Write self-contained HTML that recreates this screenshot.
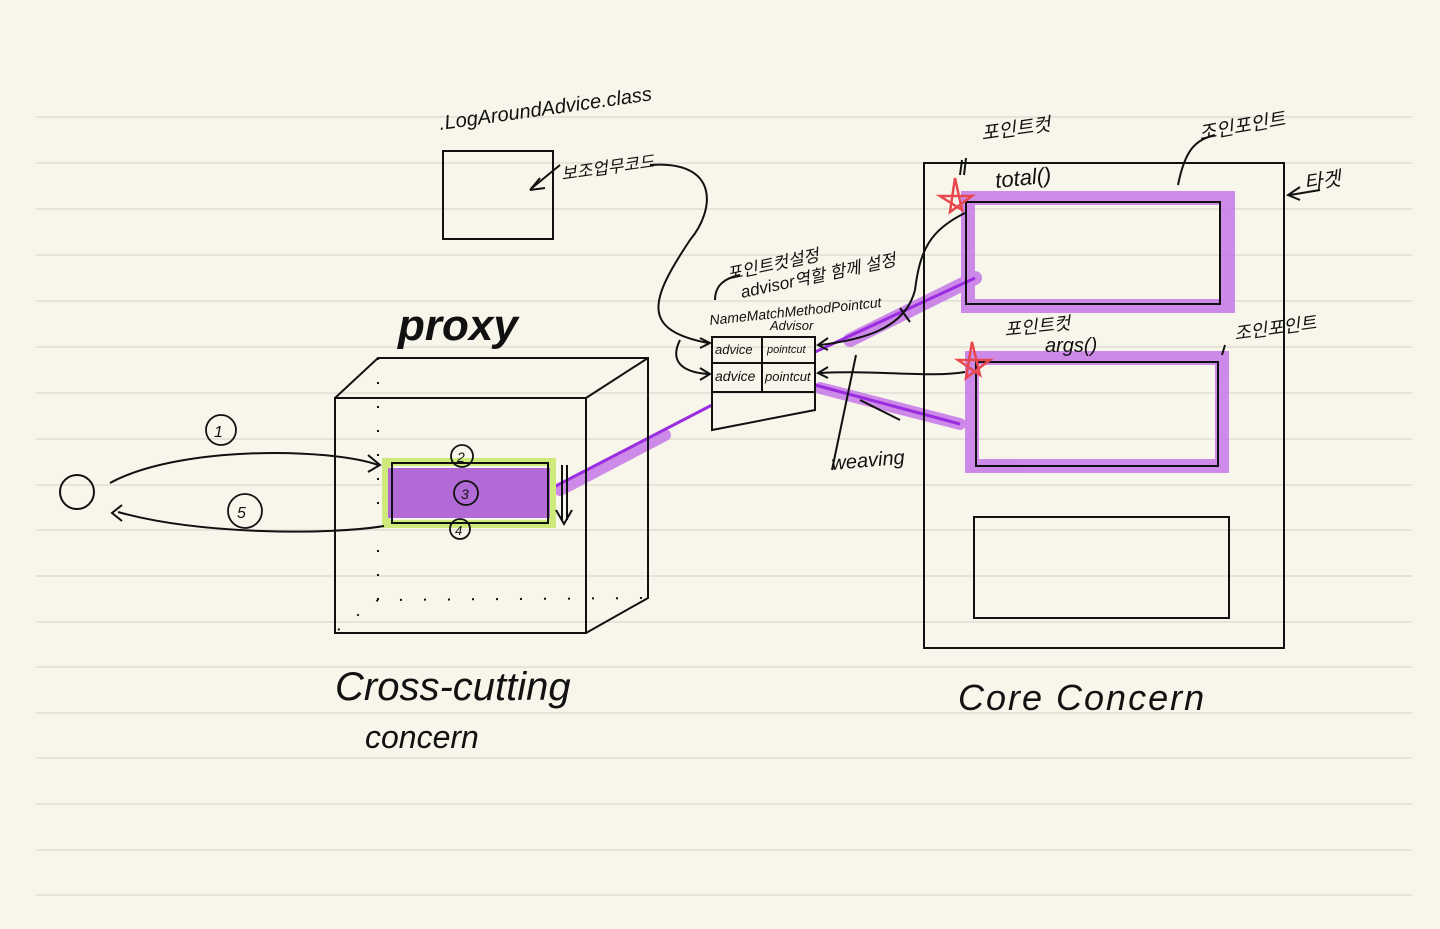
<!DOCTYPE html>
<html><head><meta charset="utf-8"><style>
html,body{margin:0;padding:0;background:#f8f6ea;}
svg{display:block}
text{font-family:"Liberation Sans","Noto Sans CJK KR",sans-serif;fill:#111;font-style:italic}
</style></head><body>
<svg width="1440" height="929" viewBox="0 0 1440 929" xmlns="http://www.w3.org/2000/svg">
<rect width="1440" height="929" fill="#f8f6ea"/>
<g stroke="#dcdad0" stroke-width="1.3">
<line x1="36" y1="117" x2="1412" y2="117"/><line x1="36" y1="163" x2="1412" y2="163"/>
<line x1="36" y1="209" x2="1412" y2="209"/><line x1="36" y1="255" x2="1412" y2="255"/>
<line x1="36" y1="301" x2="1412" y2="301"/><line x1="36" y1="347" x2="1412" y2="347"/>
<line x1="36" y1="393" x2="1412" y2="393"/><line x1="36" y1="439" x2="1412" y2="439"/>
<line x1="36" y1="485" x2="1412" y2="485"/><line x1="36" y1="530" x2="1412" y2="530"/>
<line x1="36" y1="576" x2="1412" y2="576"/><line x1="36" y1="622" x2="1412" y2="622"/>
<line x1="36" y1="667" x2="1412" y2="667"/><line x1="36" y1="713" x2="1412" y2="713"/>
<line x1="36" y1="758" x2="1412" y2="758"/><line x1="36" y1="804" x2="1412" y2="804"/>
<line x1="36" y1="850" x2="1412" y2="850"/><line x1="36" y1="895" x2="1412" y2="895"/>
</g>
<!-- purple highlights -->
<g stroke="#c87ee8" fill="none" stroke-linecap="round" opacity="0.9">
<rect x="968" y="198" width="260" height="108" stroke-width="14"/>
<rect x="972" y="358" width="250" height="108" stroke-width="14"/>
<line x1="850" y1="340" x2="975" y2="278" stroke-width="14"/>
<line x1="820" y1="388" x2="960" y2="424" stroke-width="12"/>
<line x1="560" y1="490" x2="665" y2="435" stroke-width="12"/>
</g>
<g stroke="#9b2de0" fill="none" stroke-width="3">
<line x1="548" y1="490" x2="712" y2="405"/>
<line x1="815" y1="352" x2="975" y2="278"/>
<line x1="815" y1="385" x2="960" y2="424"/>
</g>
<rect x="386" y="462" width="166" height="62" fill="none" stroke="#cdea7a" stroke-width="8"/>
<rect x="388" y="468" width="162" height="50" fill="#b26ad6"/>
<g stroke="#111" fill="none" stroke-width="2">
<rect x="443" y="151" width="110" height="88"/>
<!-- cube -->
<rect x="335" y="398" width="251" height="235"/>
<path d="M335 398 L378 358 L648 358 L648 598 L586 633 M586 398 L648 358"/>
<path d="M378 358 L378 600 L648 598 M378 600 L338 630" stroke-dasharray="2 22"/>
<rect x="392" y="463" width="156" height="60"/>
<circle cx="77" cy="492" r="17"/>
<path d="M110 483 C180 445 330 448 378 465 M368 455 L380 465 L368 472"/>
<path d="M118 512 C200 535 330 535 384 526 M122 505 L112 513 L122 521"/>
<path d="M562 465 L562 520 M567 465 L567 520 M556 510 L564 524 L572 510"/>
<!-- advisor -->
<path d="M712 337 L815 337 L815 410 L712 430 Z"/>
<path d="M712 363 L815 363 M712 392 L815 392 M762 337 L762 392"/>
<path d="M650 165 C720 160 715 210 690 240 C650 300 640 330 708 343 M700 338 L710 343 L700 348"/>
<path d="M680 340 C670 360 680 372 708 374 M700 368 L710 374 L700 380"/>
<path d="M965 213 C930 230 920 250 915 290 C905 330 860 340 820 345 M828 338 L818 345 L828 350"/>
<path d="M965 372 C930 378 880 370 820 373 M828 367 L818 373 L828 378"/>
<path d="M530 190 L540 178 M530 190 L545 188 M532 188 L560 165"/>
<!-- target -->
<rect x="924" y="163" width="360" height="485"/>
<rect x="966" y="202" width="254" height="102"/>
<rect x="976" y="362" width="242" height="104"/>
<rect x="974" y="517" width="255" height="101"/>
<path d="M856 355 L832 470 M860 400 L900 420 M910 322 L900 308"/>
<path d="M1178 185 C1185 150 1195 140 1215 135 M1222 355 L1225 345"/>
<path d="M1300 187 L1288 195 L1300 200 M1290 195 L1320 190"/>
<path d="M962 160 L960 175 M966 158 L964 175"/>
<path d="M715 300 C715 285 725 278 740 275"/>
</g>
<g stroke="#e8474d" fill="none" stroke-width="2.5">
<path d="M955 178 L962 210 L940 196 L972 196 L950 212 Z"/>
<path d="M972 342 L980 375 L958 360 L990 360 L966 378 Z"/>
</g>
<g fill="none" stroke="#111" stroke-width="1.8">
<circle cx="221" cy="430" r="15"/><circle cx="245" cy="511" r="17"/>
<circle cx="462" cy="456" r="11"/><circle cx="466" cy="493" r="12"/><circle cx="460" cy="529" r="10"/>
</g>
<text x="214" y="437" font-size="16">1</text>
<text x="237" y="518" font-size="16">5</text>
<text x="457" y="462" font-size="14">2</text>
<text x="461" y="499" font-size="14">3</text>
<text x="455" y="535" font-size="13">4</text>
<text x="440" y="130" font-size="20" transform="rotate(-8 440 130)">.LogAroundAdvice.class</text>
<text x="562" y="180" font-size="17" transform="rotate(-8 562 180)">보조업무코드</text>
<text x="398" y="340" font-size="44" font-weight="bold" font-style="normal">proxy</text>
<text x="335" y="700" font-size="40" font-style="normal">Cross-cutting</text>
<text x="365" y="748" font-size="32" font-style="normal">concern</text>
<text x="958" y="710" font-size="36" font-style="normal" letter-spacing="2">Core  Concern</text>
<text x="728" y="280" font-size="17" transform="rotate(-12 728 280)">포인트컷설정 </text>
<text x="742" y="298" font-size="17" transform="rotate(-12 742 298)">advisor역할 함께 설정</text>
<text x="710" y="325" font-size="14" transform="rotate(-6 710 325)">NameMatchMethodPointcut</text>
<text x="770" y="330" font-size="13">Advisor</text>
<text x="715" y="354" font-size="13">advice</text>
<text x="767" y="353" font-size="11">pointcut</text>
<text x="715" y="381" font-size="14">advice</text>
<text x="765" y="381" font-size="13">pointcut</text>
<text x="832" y="470" font-size="20" transform="rotate(-5 832 470)">weaving</text>
<text x="982" y="140" font-size="19" transform="rotate(-8 982 140)">포인트컷</text>
<text x="996" y="188" font-size="22" transform="rotate(-6 996 188)">total()</text>
<text x="1200" y="140" font-size="19" transform="rotate(-10 1200 140)">조인포인트</text>
<text x="1305" y="190" font-size="20" transform="rotate(-8 1305 190)">타겟</text>
<text x="1005" y="336" font-size="18" transform="rotate(-6 1005 336)">포인트컷</text>
<text x="1045" y="352" font-size="20">args()</text>
<text x="1235" y="340" font-size="18" transform="rotate(-8 1235 340)">조인포인트</text>
</svg>
</body></html>
